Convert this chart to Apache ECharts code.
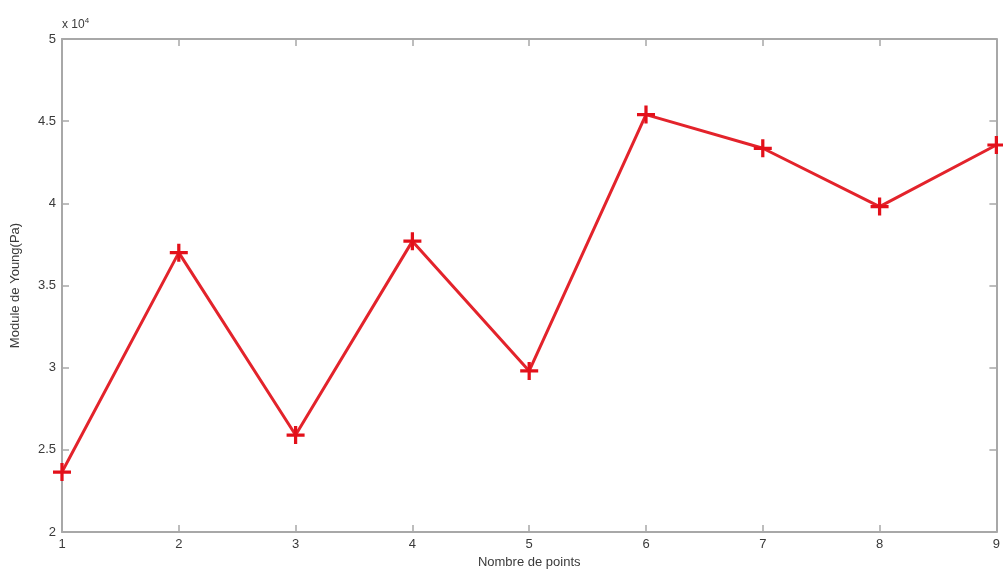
<!DOCTYPE html>
<html>
<head>
<meta charset="utf-8">
<script src="https://cdn.jsdelivr.net/npm/echarts@6/dist/echarts.min.js"></script>
<style>html,body{margin:0;padding:0;background:#fff;}#c{width:1003px;height:574px;}</style>
</head>
<body>
<div id="c"></div>
<script>
var xPoints = [1, 2, 3, 4, 5, 6, 7, 8, 9];
var youngModulus = [23650, 37000, 25900, 37700, 29800, 45400, 43350, 39800, 43550];
var yScaleLabel = 'x 10';
var yScaleExp = '4';
var xAxisTitle = 'Nombre de points';
var yAxisTitle = 'Module de Young(Pa)';

var chart = echarts.init(document.getElementById('c'));
var axisCol = '#a8a8a8';
var textCol = '#3a3a3a';
var font = 'Liberation Sans, Arial, sans-serif';
var plusPath = 'path://M4.1,0H5.9V4.1H10V5.9H5.9V10H4.1V5.9H0V4.1H4.1Z';

chart.setOption({
  animation: false,
  backgroundColor: '#fff',
  grid: {left: 62, right: 1, top: 39, bottom: 42, containLabel: false},
  graphic: [{
    type: 'text', left: 62, top: 17,
    style: {
      text: '{a|' + yScaleLabel + '}{b|' + yScaleExp + '}',
      rich: {
        a: {fontSize: 12, fill: textCol, fontFamily: font},
        b: {fontSize: 8, fill: textCol, fontFamily: font, verticalAlign: 'top', padding: [0, 0, 8, 0]}
      }
    }
  }],
  xAxis: [{
    type: 'value', min: 1, max: 9, interval: 1,
    name: xAxisTitle, nameLocation: 'middle', nameGap: 23,
    nameTextStyle: {fontSize: 13, color: textCol, fontFamily: font},
    axisLine: {show: true, onZero: false, lineStyle: {color: axisCol, width: 2}},
    axisTick: {show: true, inside: true, length: 7, lineStyle: {color: axisCol, width: 1.5}},
    axisLabel: {fontSize: 13, color: textCol, fontFamily: font, margin: 6},
    splitLine: {show: false}
  }, {
    type: 'value', min: 1, max: 9, interval: 1, position: 'top',
    axisLine: {show: true, onZero: false, lineStyle: {color: axisCol, width: 2}},
    axisTick: {show: true, inside: true, length: 7, lineStyle: {color: axisCol, width: 1.5}},
    axisLabel: {show: false}, splitLine: {show: false}
  }],
  yAxis: [{
    type: 'value', min: 20000, max: 50000, interval: 5000,
    name: yAxisTitle, nameLocation: 'middle', nameGap: 40,
    nameTextStyle: {fontSize: 13, color: textCol, fontFamily: font},
    axisLine: {show: true, onZero: false, lineStyle: {color: axisCol, width: 2}},
    axisTick: {show: true, inside: true, length: 7, lineStyle: {color: axisCol, width: 1.5}},
    axisLabel: {fontSize: 13, color: textCol, fontFamily: font, margin: 6,
      formatter: function (v) { return String(v / 10000); }},
    splitLine: {show: false}
  }, {
    type: 'value', min: 20000, max: 50000, interval: 5000, position: 'right',
    axisLine: {show: true, onZero: false, lineStyle: {color: axisCol, width: 2}},
    axisTick: {show: true, inside: true, length: 7, lineStyle: {color: axisCol, width: 1.5}},
    axisLabel: {show: false}, splitLine: {show: false}
  }],
  series: [{
    type: 'line',
    data: xPoints.map(function (x, i) { return [x, youngModulus[i]]; }),
    xAxisIndex: 0, yAxisIndex: 0,
    lineStyle: {color: '#e3232b', width: 3},
    itemStyle: {color: '#e3101a'},
    symbol: plusPath, symbolSize: 18,
    showAllSymbol: true, clip: false
  }]
});
</script>
</body>
</html>
